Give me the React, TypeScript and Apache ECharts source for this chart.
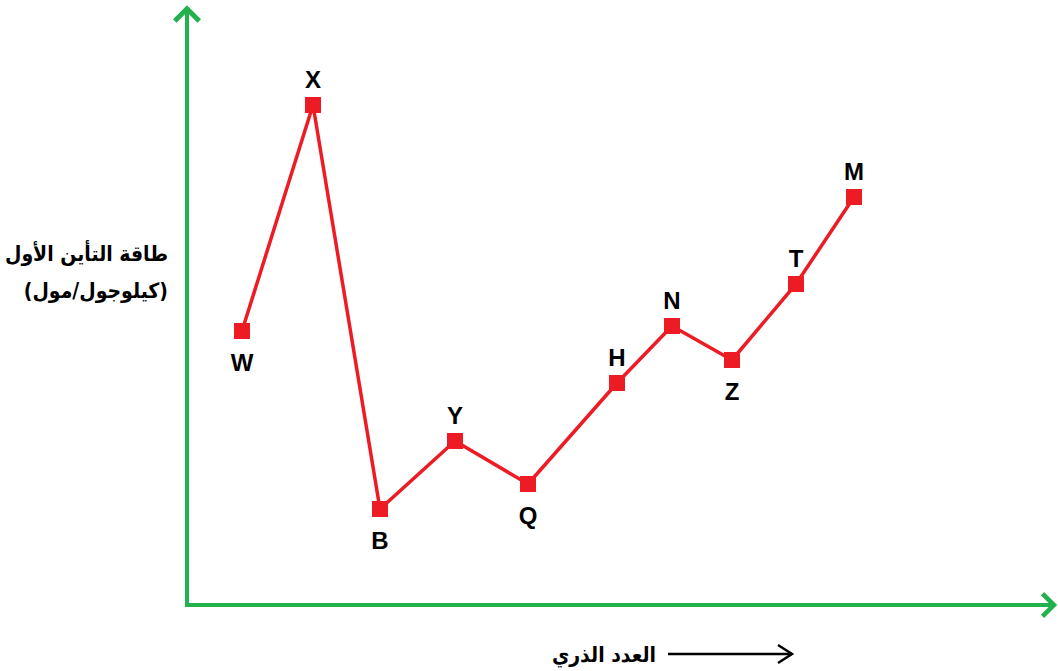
import React, { useEffect, useRef } from "react";
import * as echarts from "echarts";

// Element labels and their plotted positions (atomic-number order, energy)
const elements = ["W", "X", "B", "Y", "Q", "H", "N", "Z", "T", "M"];
const atomicPos = [55, 126, 193, 268, 341, 430, 485, 545, 609, 667];
const energy = [274, 500, 96, 164, 121, 222, 279, 245, 321, 408];
const labelBelow = ["W", "B", "Q", "Z"];

const yTitleLines = ["طاقة التأين الأول", "(كيلوجول/مول)"];
const xTitle = "العدد الذري";

const GREEN = "#22B14C";
const RED = "#ED1C24";
const ARABIC_FONT = "bold 21px 'DejaVu Sans Condensed', 'DejaVu Sans', sans-serif";

// Open chevron arrowhead (points up; ECharts rotates it along the axis)
const chevron = "path://M14,0 L28,14 L24.5,17.5 L14,7 L3.5,17.5 L0,14 Z";

export default function App() {
  const ref = useRef<HTMLDivElement>(null);

  useEffect(() => {
    if (!ref.current) return;
    const chart = echarts.init(ref.current, null, { renderer: "svg" });

    const data = elements.map((name, i) => {
      const below = labelBelow.includes(name);
      return {
        name,
        value: [atomicPos[i], energy[i]],
        label: { position: below ? "bottom" : "top", distance: below ? 11 : 6 },
      };
    });

    chart.setOption({
      animation: false,
      backgroundColor: "#ffffff",
      grid: { left: 187, right: 9, top: 14, bottom: 66 },
      xAxis: {
        type: "value",
        min: 0,
        max: 862,
        axisLine: {
          show: true,
          symbol: ["none", chevron],
          symbolSize: [26, 18],
          lineStyle: { color: GREEN, width: 4, cap: "square" },
        },
        axisTick: { show: false },
        axisLabel: { show: false },
        splitLine: { show: false },
      },
      yAxis: {
        type: "value",
        min: 0,
        max: 591,
        axisLine: {
          show: true,
          symbol: ["none", chevron],
          symbolSize: [28, 18],
          lineStyle: { color: GREEN, width: 4, cap: "square" },
        },
        axisTick: { show: false },
        axisLabel: { show: false },
        splitLine: { show: false },
      },
      series: [
        {
          type: "line",
          data,
          symbol: "rect",
          symbolSize: 16,
          lineStyle: { color: RED, width: 3.5 },
          itemStyle: { color: RED },
          label: {
            show: true,
            formatter: "{b}",
            color: "#000",
            fontFamily: "Liberation Sans, Arial, sans-serif",
            fontWeight: "bold",
            fontSize: 24,
          },
        },
      ],
      graphic: [
        {
          type: "text",
          x: 168,
          y: 254,
          style: {
            text: yTitleLines[0],
            textAlign: "right",
            textVerticalAlign: "middle",
            fill: "#000",
            font: ARABIC_FONT,
          },
        },
        {
          type: "text",
          x: 168,
          y: 291,
          style: {
            text: yTitleLines[1],
            textAlign: "right",
            textVerticalAlign: "middle",
            fill: "#000",
            font: ARABIC_FONT,
          },
        },
        {
          type: "text",
          x: 656,
          y: 655,
          style: {
            text: xTitle,
            textAlign: "right",
            textVerticalAlign: "middle",
            fill: "#000",
            font: ARABIC_FONT,
          },
        },
        {
          type: "line",
          shape: { x1: 668, y1: 654, x2: 792, y2: 654 },
          style: { stroke: "#000", lineWidth: 2.5 },
        },
        {
          type: "polyline",
          shape: { points: [[778, 645], [792, 654], [778, 663]] },
          style: { stroke: "#000", lineWidth: 2.5, fill: null },
        },
      ],
    });

    return () => chart.dispose();
  }, []);

  return (
    <div
      ref={ref}
      style={{ position: "fixed", left: 0, top: 0, width: 1058, height: 671 }}
    />
  );
}
